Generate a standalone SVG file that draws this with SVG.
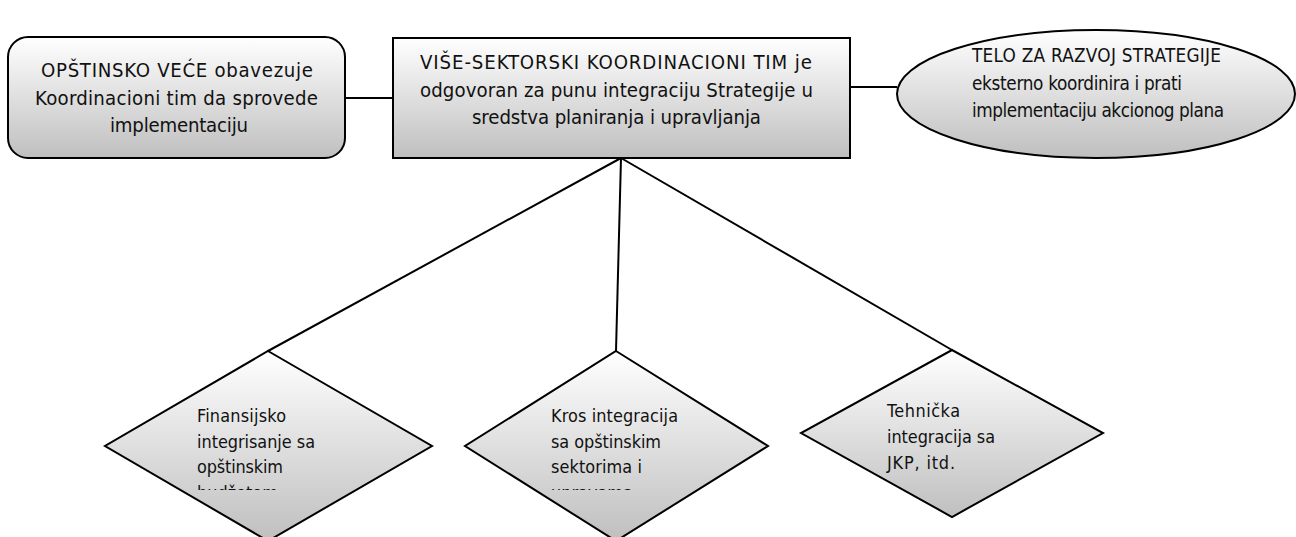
<svg xmlns="http://www.w3.org/2000/svg" width="1296" height="537" viewBox="0 0 1296 537">
<style>
text{font-family:"DejaVu Sans Condensed","DejaVu Sans",sans-serif;font-stretch:condensed;fill:#111}
.shape{stroke:#000;stroke-width:2}
.big{font-size:20.2px}
.mid{font-size:18.8px}
.small{font-size:17.9px}
.conn{stroke:#000;stroke-width:2;fill:none}
</style>
<defs>
<linearGradient id="g" x1="0" y1="0" x2="0" y2="1">
<stop offset="0" stop-color="#ffffff"/>
<stop offset="1" stop-color="#bfbfbf"/>
</linearGradient>
<clipPath id="clipText"><rect x="0" y="0" width="1296" height="490"/></clipPath>
</defs>
<rect width="1296" height="537" fill="#fff"/>
<g id="connectors">
<line class="conn" x1="345" y1="98" x2="393" y2="98"/>
<line class="conn" x1="850" y1="87" x2="897" y2="87"/>
<line class="conn" x1="621" y1="158" x2="268" y2="351"/>
<line class="conn" x1="621" y1="158" x2="616" y2="351"/>
<line class="conn" x1="621" y1="158" x2="952" y2="350"/>
</g>
<g id="opstinsko-vece">
<rect class="shape" x="8" y="37" width="337" height="121" rx="20" ry="20" fill="url(#g)"/>
<text class="big" x="41" y="77" textLength="272" lengthAdjust="spacing">OPŠTINSKO VEĆE obavezuje</text>
<text class="big" x="35" y="105" textLength="283" lengthAdjust="spacing">Koordinacioni tim da sprovede</text>
<text class="big" x="110" y="132" textLength="138" lengthAdjust="spacing">implementaciju</text>
</g>
<g id="koordinacioni-tim">
<rect class="shape" x="393" y="38" width="457" height="120" fill="url(#g)"/>
<text class="big" x="420" y="69" textLength="392" lengthAdjust="spacing">VIŠE-SEKTORSKI KOORDINACIONI TIM je</text>
<text class="big" x="420" y="97" textLength="393" lengthAdjust="spacing">odgovoran za punu integraciju Strategije u</text>
<text class="big" x="472" y="124" textLength="289" lengthAdjust="spacing">sredstva planiranja i upravljanja</text>
</g>
<g id="telo-za-razvoj">
<ellipse class="shape" cx="1096" cy="94" rx="199" ry="64" fill="url(#g)"/>
<text class="mid" x="972" y="62" textLength="249" lengthAdjust="spacing">TELO ZA RAZVOJ STRATEGIJE</text>
<text class="mid" x="972" y="90" textLength="210" lengthAdjust="spacing">eksterno koordinira i prati</text>
<text class="mid" x="972" y="117" textLength="252" lengthAdjust="spacing">implementaciju akcionog plana</text>
</g>
<g id="finansijsko">
<polygon class="shape" points="268,351 432,446 268,541 105,446" fill="url(#g)"/>
<text class="small" x="197" y="422" textLength="89" lengthAdjust="spacing">Finansijsko</text>
<text class="small" x="197" y="448" textLength="118" lengthAdjust="spacing">integrisanje sa</text>
<text class="small" x="197" y="473" textLength="86" lengthAdjust="spacing">opštinskim</text>
<text class="small" x="197" y="498.5" clip-path="url(#clipText)">budžetom</text>
</g>
<g id="kros-integracija">
<polygon class="shape" points="616,351 768,446 616,541 465,446" fill="url(#g)"/>
<text class="small" x="551" y="422" textLength="127" lengthAdjust="spacing">Kros integracija</text>
<text class="small" x="551" y="448" textLength="110" lengthAdjust="spacing">sa opštinskim</text>
<text class="small" x="551" y="473" textLength="91" lengthAdjust="spacing">sektorima i</text>
<text class="small" x="551" y="498.5" clip-path="url(#clipText)">upravama</text>
</g>
<g id="tehnicka-integracija">
<polygon class="shape" points="952,350 1103,433 952,517 801,433" fill="url(#g)"/>
<text class="small" x="887" y="417" textLength="73" lengthAdjust="spacing">Tehnička</text>
<text class="small" x="887" y="443" textLength="108" lengthAdjust="spacing">integracija sa</text>
<text class="small" x="887" y="469" textLength="68" lengthAdjust="spacing">JKP, itd.</text>
</g>
</svg>
